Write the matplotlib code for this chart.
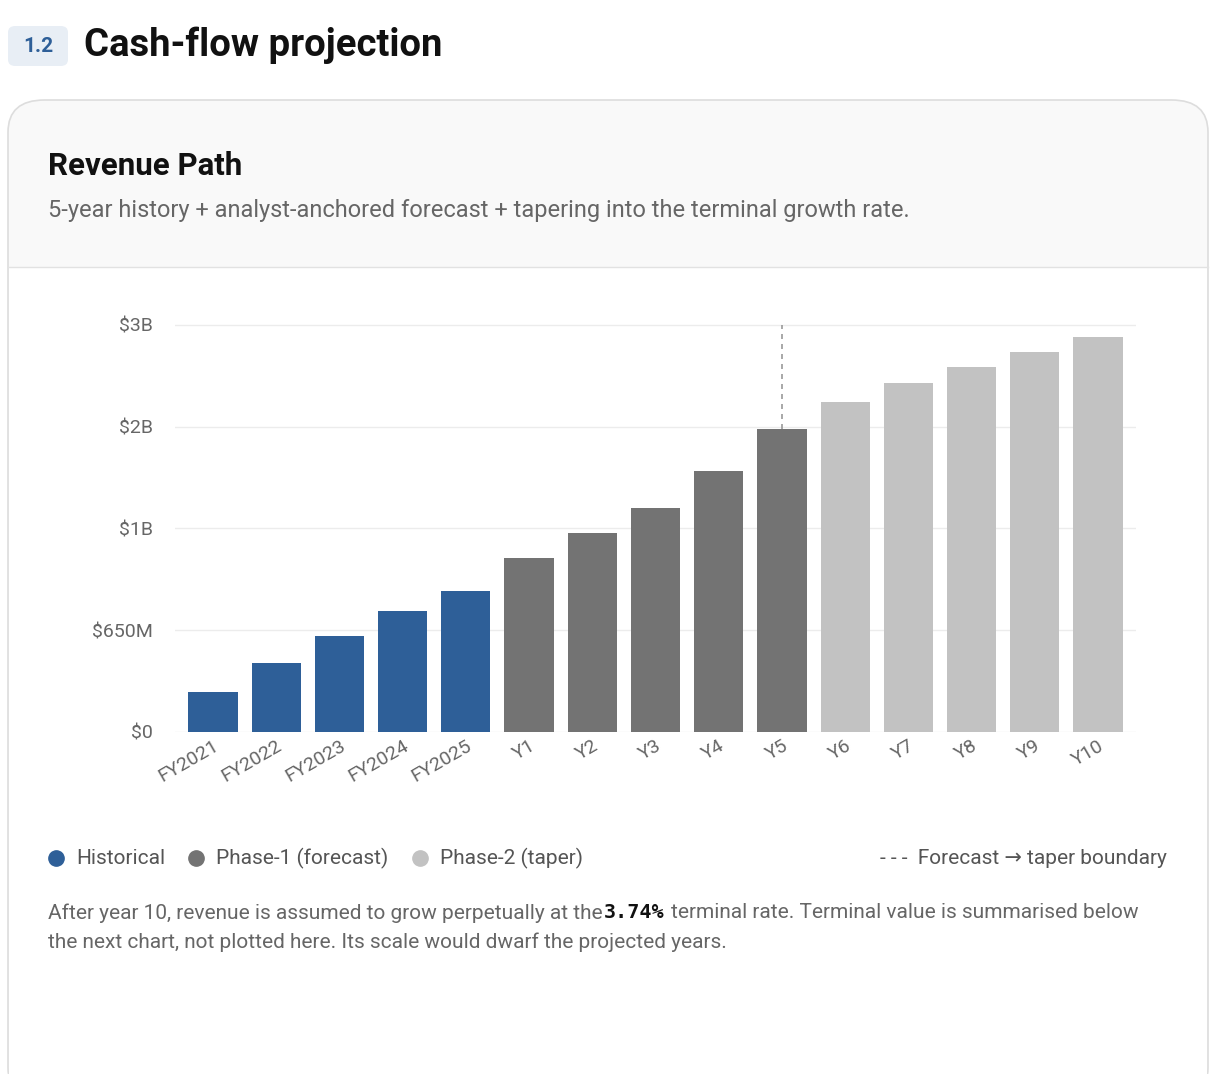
import matplotlib.pyplot as plt
from matplotlib.patches import FancyBboxPatch, Rectangle
from matplotlib.lines import Line2D

plt.rcParams['font.family'] = ['Roboto', 'DejaVu Sans']

labels = ["FY2021", "FY2022", "FY2023", "FY2024", "FY2025",
          "Y1", "Y2", "Y3", "Y4", "Y5", "Y6", "Y7", "Y8", "Y9", "Y10"]
revenue = [255e6, 440e6, 612e6, 771e6, 899e6,
           1109e6, 1268e6, 1427e6, 1663e6, 1937e6,
           2109e6, 2230e6, 2332e6, 2428e6, 2524e6]
phase = ["hist"] * 5 + ["p1"] * 5 + ["p2"] * 5
colors = {"hist": "#2e5f98", "p1": "#737373", "p2": "#c2c2c2"}
tick_vals = [0, 650e6, 1300e6, 1950e6, 2600e6]
tick_text = ["$0", "$650M", "$1B", "$2B", "$3B"]

W, H = 1216, 1074
fig = plt.figure(figsize=(W / 100, H / 100), dpi=100)
fig.patch.set_facecolor("white")

def fx(x): return x / W
def fy(y): return 1 - y / H

# section badge + title
fig.patches.append(FancyBboxPatch((fx(8), fy(66)), fx(60), 40 / H,
                   boxstyle="round,pad=0,rounding_size=0.006", transform=fig.transFigure,
                   fc="#e8eef5", ec="none"))
fig.text(fx(38), fy(46), "1.2", color="#2e5f98", fontsize=15, ha="center", va="center", weight="bold")
fig.text(fx(84), fy(45), "Cash-flow projection", fontsize=27.5, weight="bold", va="center", color="#111")

# card
fig.patches.append(FancyBboxPatch((fx(8), fy(1100)), fx(1200), 1000 / H,
                   boxstyle="round,pad=0,rounding_size=0.03", transform=fig.transFigure,
                   fc="#f9f9f9", ec="#dddddd", lw=1.2))
fig.patches.append(Rectangle((fx(9), fy(1099)), fx(1198), 832 / H, transform=fig.transFigure,
                   fc="white", ec="none"))
fig.add_artist(Line2D([fx(8), fx(1208)], [fy(267), fy(267)], color="#e2e2e2", lw=1))
fig.text(fx(48), fy(166), "Revenue Path", fontsize=22.5, weight="bold", va="center", color="#111")
fig.text(fx(48), fy(210), "5-year history + analyst-anchored forecast + tapering into the terminal growth rate.",
         fontsize=17, va="center", color="#666")

ax = fig.add_axes([fx(175), fy(732), fx(1136 - 175), (732 - 320) / H])
ax.set_zorder(5)
ax.patch.set_alpha(0)
x = range(len(labels))
ax.bar(x, revenue, width=0.78, color=[colors[p] for p in phase])
ax.set_xlim(-0.6, len(labels) - 0.4)
ax.set_ylim(0, 2.63e9)
ax.set_yticks(tick_vals)
ax.set_yticklabels(tick_text)
ax.set_xticks(list(x))
ax.set_xticklabels(labels, rotation=30, ha="right", rotation_mode="anchor")
ax.tick_params(length=0, labelsize=14, colors="#666")
ax.tick_params(axis="y", pad=16)
ax.grid(axis="y", color="#ececec", lw=1)
ax.set_axisbelow(True)
for s in ax.spines.values():
    s.set_visible(False)
ax.vlines(9, revenue[9], 2.6e9, colors="#999", linestyles=(0, (3, 3)), lw=1.2)

# legend
y = fy(858)
for cx, col, txt in [(56, colors["hist"], "Historical"), (196, colors["p1"], "Phase-1 (forecast)"),
                     (420, colors["p2"], "Phase-2 (taper)")]:
    fig.add_artist(Line2D([fx(cx)], [y], marker="o", ms=11, color=col, transform=fig.transFigure))
    fig.text(fx(cx + 20), y, txt, fontsize=15, va="center", color="#555")
fig.text(fx(1167), y, "- - -  Forecast \u2192 taper boundary", fontsize=15, va="center", ha="right", color="#555")

# note
fig.text(fx(48), fy(913), "After year 10, revenue is assumed to grow perpetually at the", fontsize=15,
         va="center", color="#666")
fig.text(fx(604), fy(913), "3.74%", fontsize=14.5, va="center", color="#111", weight="bold", family="DejaVu Sans Mono")
fig.text(fx(671), fy(913), "terminal rate. Terminal value is summarised below", fontsize=15, va="center", color="#666")
fig.text(fx(48), fy(942), "the next chart, not plotted here. Its scale would dwarf the projected years.",
         fontsize=15, va="center", color="#666")

fig.savefig("out.png", dpi=100)
